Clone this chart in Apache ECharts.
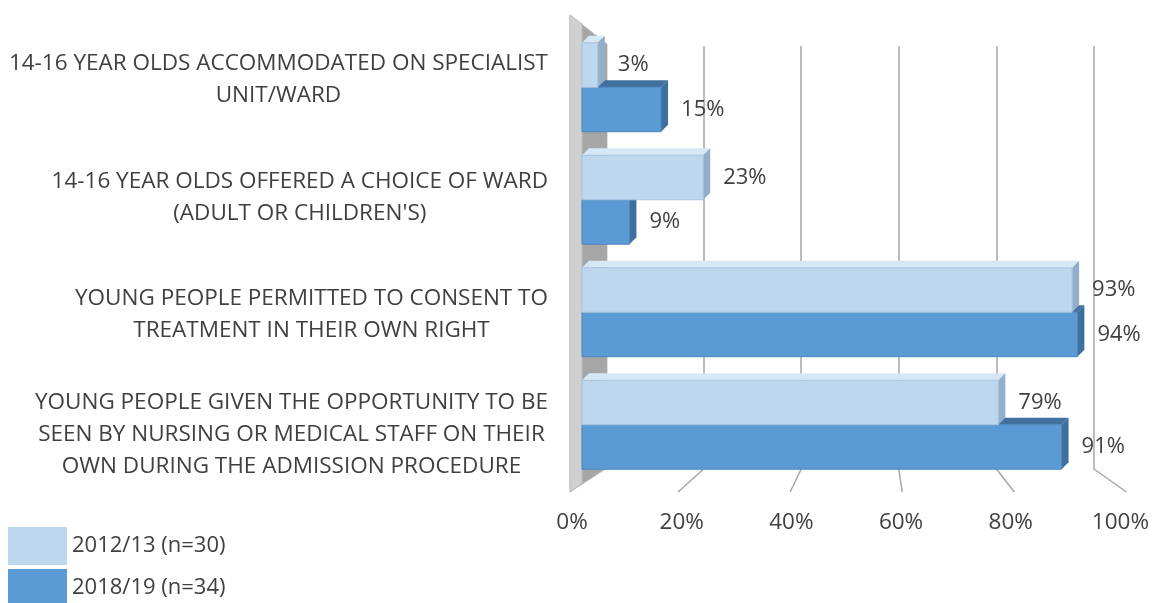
<!DOCTYPE html>
<html><head><meta charset="utf-8">
<script src="https://cdn.jsdelivr.net/npm/echarts@6/dist/echarts.min.js"></script>
<style>html,body{margin:0;padding:0;background:#fff}#c{width:1152px;height:603px}</style>
</head><body><div id="c"></div>
<script>
const categories = [
  "14-16 YEAR OLDS ACCOMMODATED ON SPECIALIST\nUNIT/WARD",
  "14-16 YEAR OLDS OFFERED A CHOICE OF WARD\n(ADULT OR CHILDREN'S)",
  "YOUNG PEOPLE PERMITTED TO CONSENT TO\nTREATMENT IN THEIR OWN RIGHT",
  "YOUNG PEOPLE GIVEN THE OPPORTUNITY TO BE\nSEEN BY NURSING OR MEDICAL STAFF ON THEIR\nOWN DURING THE ADMISSION PROCEDURE"
];
const seriesNames = ["2012/13 (n=30)", "2018/19 (n=34)"];
const values2012 = [3, 23, 93, 79];
const values2018 = [15, 9, 94, 91];
const tickMin = 0, tickMax = 100, tickStep = 20;

// layout-only: vertical nudge of each category label block (px, + = down)
const labelNudge = [-8, -2, 2, 10];

const FONT = "'Open Sans', sans-serif";
const WEIGHT = 400;
const TXT = '#404040';
const DEPTH = 7;
const palette = [
  {front: '#BDD7EE', side: '#93AECB', top: '#D6E7F6', edge: '#A8C4E0'},
  {front: '#5B9BD5', side: '#3F6F9E', top: '#41719C', edge: '#4A86BF'}
];

const chart = echarts.init(document.getElementById('c'), null, {renderer: 'canvas'});

function makeRender(sIdx) {
  return function (params, api) {
    const cat = api.value(0), val = api.value(1);
    const p0 = api.coord([0, cat]);
    const p1 = api.coord([val, cat]);
    const band = api.size([0, 1])[1];
    const h = band * 0.395;
    const y0 = p0[1] - h + sIdx * h;
    const x0 = p0[0], x1 = p1[0];
    const c = palette[sIdx], d = DEPTH;
    return {
      type: 'group',
      children: [
        {type: 'polygon', shape: {points: [[x0, y0], [x0 + d, y0 - d], [x1 + d, y0 - d], [x1, y0]]},
         style: {fill: c.top}},
        {type: 'polygon', shape: {points: [[x1, y0], [x1 + d, y0 - d], [x1 + d, y0 + h - d], [x1, y0 + h]]},
         style: {fill: c.side}},
        {type: 'rect', shape: {x: x0, y: y0, width: x1 - x0, height: h},
         style: {fill: c.front, stroke: c.edge, lineWidth: 1}},
        {type: 'text', x: x1 + d + 13, y: y0 + h / 2,
         style: {text: val + '%', fill: TXT, font: WEIGHT + ' 22px ' + FONT, verticalAlign: 'middle', align: 'left'}}
      ]
    };
  };
}

const rich = {c: {align: 'center', fontFamily: FONT, fontWeight: WEIGHT, fontSize: 22.5, color: TXT, lineHeight: 32}};
labelNudge.forEach((n, i) => { rich['p' + i] = {lineHeight: Math.max(1, Math.abs(n) * 2), fontSize: 1}; });

const wall = [
  {id: 'wallBack', type: 'polygon', z: -10, shape: {points: [[570,15],[607,44],[607,468],[570,492]]},
   style: {fill: '#A6A6A6', stroke: '#BFBFBF', lineWidth: 1}},
  {id: 'wallFront', type: 'polygon', z: -9, shape: {points: [[570,15],[582,24],[582,483],[570,492]]},
   style: {fill: '#D0D0D0', stroke: '#BFBFBF', lineWidth: 1}}
];

chart.setOption({
  animation: false,
  backgroundColor: '#fff',
  graphic: wall,
  grid: [
    {left: 582, right: 43, top: 31, bottom: 122},
    {left: 606, right: 58, top: 46, bottom: 133},
    {left: 572, right: 30, top: 31, bottom: 111}
  ],
  legend: {
    data: seriesNames, orient: 'vertical', left: 8, top: 527, height: 120,
    itemWidth: 59, itemHeight: 38, itemGap: 4, icon: 'rect', padding: 0,
    textStyle: {fontFamily: FONT, fontWeight: WEIGHT, fontSize: 22, color: TXT}
  },
  xAxis: [
    {gridIndex: 0, type: 'value', min: tickMin, max: tickMax, interval: tickStep,
     axisLabel: {show: false}, axisLine: {show: false}, axisTick: {show: false}, splitLine: {show: false}},
    {gridIndex: 1, type: 'value', min: tickMin, max: tickMax, interval: tickStep,
     axisLabel: {show: false}, axisLine: {show: false}, axisTick: {show: false},
     splitLine: {show: true, lineStyle: {color: '#A6A6A6', width: 1.5}}},
    {gridIndex: 2, type: 'value', min: tickMin, max: tickMax, interval: tickStep,
     axisLine: {show: false}, splitLine: {show: false}, axisTick: {show: false},
     axisLabel: {margin: 19, fontFamily: FONT, fontWeight: WEIGHT, fontSize: 22.5, color: TXT, formatter: v => v + '%'}}
  ],
  yAxis: [
    {gridIndex: 0, type: 'category', data: categories, inverse: true,
     axisLine: {show: false}, axisTick: {show: false},
     axisLabel: {margin: 34, fontFamily: FONT, fontWeight: WEIGHT, fontSize: 22.5, color: TXT, align: 'right',
       formatter: (v, i) => {
         const body = v.split('\n').map(s => '{c|' + s + '}').join('\n');
         const n = labelNudge[i] || 0;
         if (n < 0) return body + '\n{p' + i + '| }';
         if (n > 0) return '{p' + i + '| }\n' + body;
         return body;
       },
       rich: rich}},
    {gridIndex: 1, type: 'category', data: categories, show: false},
    {gridIndex: 2, type: 'category', data: categories, show: false}
  ],
  series: [
    {name: seriesNames[0], type: 'custom', xAxisIndex: 0, yAxisIndex: 0, z: 3,
     data: values2012.map((v, i) => [i, v]), encode: {x: 1, y: 0},
     itemStyle: {color: palette[0].front}, renderItem: makeRender(0)},
    {name: seriesNames[1], type: 'custom', xAxisIndex: 0, yAxisIndex: 0, z: 2,
     data: values2018.map((v, i) => [i, v]), encode: {x: 1, y: 0},
     itemStyle: {color: palette[1].front}, renderItem: makeRender(1)}
  ]
});

// floor ticks: join each back-wall gridline foot to its front tick label position
const floorLines = [];
for (let t = tickMin + tickStep; t <= tickMax; t += tickStep) {
  const bx = chart.convertToPixel({xAxisIndex: 1}, t);
  const fx = chart.convertToPixel({xAxisIndex: 2}, t);
  floorLines.push({type: 'line', z: -5, shape: {x1: bx, y1: 469, x2: fx + (t - 50) * 0.12, y2: 492},
    style: {stroke: '#A6A6A6', lineWidth: 1.5}});
}
chart.setOption({graphic: wall.concat(floorLines)});
</script></body></html>
